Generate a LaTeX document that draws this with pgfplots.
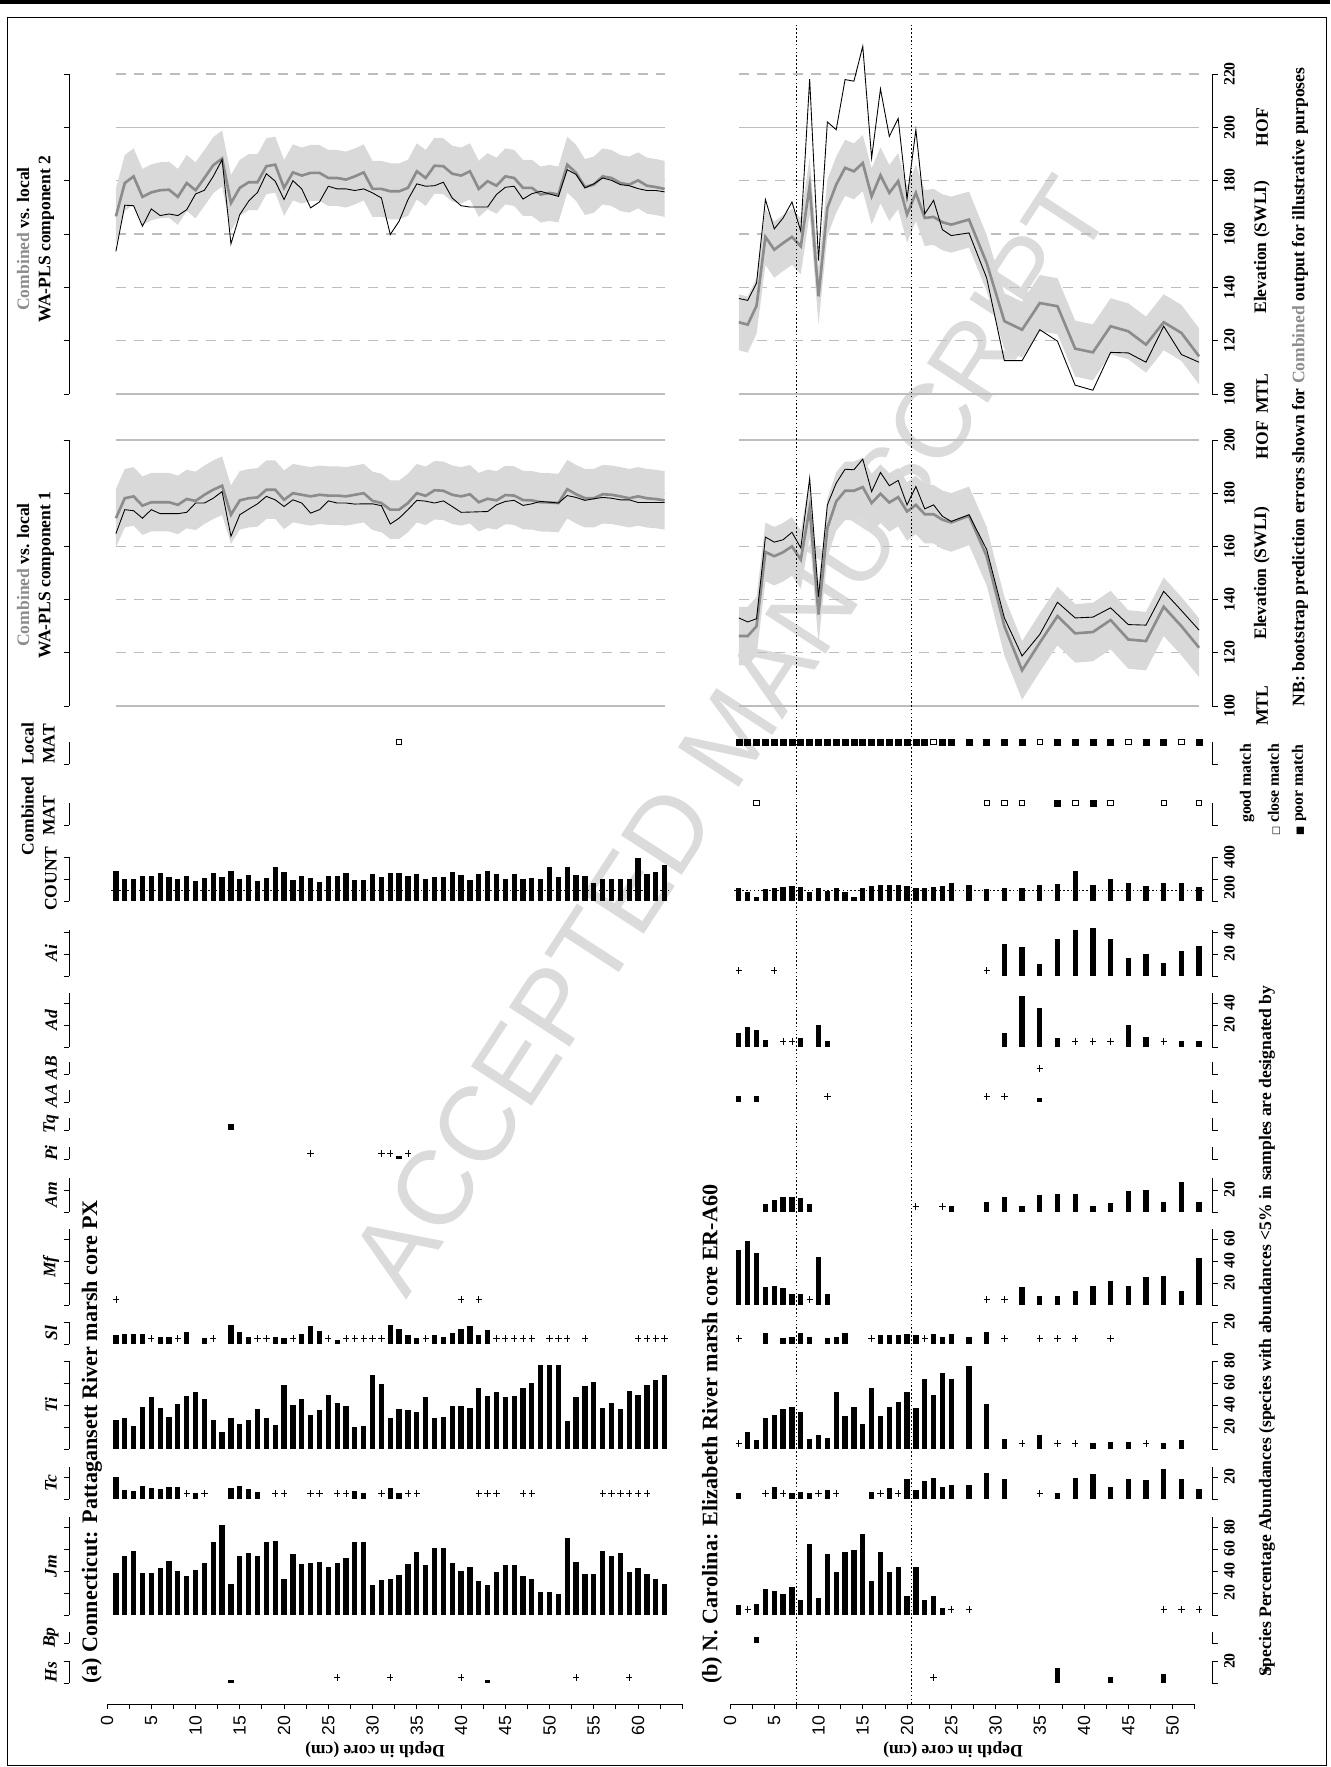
\documentclass[border=0pt]{standalone}
\usepackage{pgfplots}
\pgfplotsset{compat=1.18}
\usepackage{pgfplotstable}
\usepackage{fontspec}
\setmainfont{Liberation Serif}
\newfontfamily\lsans{Liberation Sans}
\newfontfamily\dejavu{DejaVu Sans}

\definecolor{band}{gray}{0.85}
\definecolor{comb}{gray}{0.55}
\definecolor{gridc}{gray}{0.74}
\definecolor{wm}{gray}{0.86}

\newcommand\tl{\fontsize{9}{11}\selectfont\bfseries}

% WA-PLS reconstructions: d = depth (cm), comb = Combined, loc = local
\pgfplotstableread{
d comb loc
1 170.6 164.8
2 178.1 173.8
3 178.8 173.4
4 175.3 170.6
5 176.6 173.8
6 176.6 172.3
7 176.6 172.3
8 175.6 172.3
9 177.8 172.8
10 177.1 176.3
11 179.4 176.3
12 181.3 178.1
13 182.8 180.6
14 171.9 163.8
15 177.3 171.9
16 178.1 174.0
17 178.4 176.0
18 181.3 178.8
19 181.3 177.5
20 177.5 175.0
21 180.0 177.5
22 179.4 176.3
23 178.8 172.5
24 179.4 173.8
25 179.1 177.1
26 179.1 176.3
27 178.8 176.3
28 179.4 175.9
29 180.0 176.0
30 177.1 176.0
31 176.3 175.3
32 173.8 168.4
33 173.8 170.6
34 176.3 173.8
35 180.0 177.3
36 179.0 177.0
37 181.1 176.3
38 180.9 177.1
39 179.4 175.0
40 178.8 172.8
41 179.6 172.9
42 176.6 173.0
43 177.9 173.1
44 177.3 175.6
45 179.3 176.9
46 179.1 177.3
47 177.4 175.4
48 177.3 176.0
49 176.6 176.9
50 176.5 176.6
51 176.3 176.3
52 181.5 179.1
53 179.6 178.4
54 178.1 177.3
55 178.1 177.9
56 179.6 178.4
57 179.4 178.1
58 178.8 177.5
59 178.1 177.5
60 178.8 176.5
61 178.1 176.5
62 177.8 176.5
63 177.3 176.5
}\aone

% bootstrap band of Combined, (a) component 1: upper edge, then lower edge back
\pgfplotstableread{
d y
1 181.6
2 189.1
3 189.8
4 186.3
5 187.6
6 187.6
7 187.6
8 186.6
9 188.8
10 188.1
11 190.4
12 192.3
13 193.8
14 182.9
15 188.3
16 189.1
17 189.4
18 192.3
19 192.3
20 188.5
21 191.0
22 190.4
23 189.8
24 190.4
25 190.1
26 190.1
27 189.8
28 190.4
29 191.0
30 188.1
31 187.3
32 184.8
33 184.8
34 187.3
35 191.0
36 190.0
37 192.1
38 191.9
39 190.4
40 189.8
41 190.6
42 187.6
43 188.9
44 188.3
45 190.3
46 190.1
47 188.4
48 188.3
49 187.6
50 187.5
51 187.3
52 192.5
53 190.6
54 189.1
55 189.1
56 190.6
57 190.4
58 189.8
59 189.1
60 189.8
61 189.1
62 188.8
63 188.3
63 166.3
62 166.8
61 167.1
60 167.8
59 167.1
58 167.8
57 168.4
56 168.6
55 167.1
54 167.1
53 168.6
52 170.5
51 165.3
50 165.5
49 165.6
48 166.3
47 166.4
46 168.1
45 168.3
44 166.3
43 166.9
42 165.6
41 168.6
40 167.8
39 168.4
38 169.9
37 170.1
36 168.0
35 169.0
34 165.3
33 162.8
32 162.8
31 165.3
30 166.1
29 169.0
28 168.4
27 167.8
26 168.1
25 168.1
24 168.4
23 167.8
22 168.4
21 169.0
20 166.5
19 170.3
18 170.3
17 167.4
16 167.1
15 166.3
14 160.9
13 171.8
12 170.3
11 168.4
10 166.1
9 166.8
8 164.6
7 165.6
6 165.6
5 165.6
4 164.3
3 167.8
2 167.1
1 159.6
}\aoneband

\pgfplotstableread{
d comb loc
1 166.6 153.5
2 179.1 170.8
3 181.6 170.6
4 173.9 162.9
5 175.6 169.4
6 176.4 166.9
7 176.6 167.5
8 173.9 166.9
9 179.1 169.1
10 176.4 175.0
11 181.0 176.4
12 185.8 181.6
13 188.3 187.9
14 171.6 156.3
15 177.3 167.3
16 179.4 172.3
17 179.4 175.6
18 185.4 182.6
19 186.0 179.8
20 177.3 172.9
21 183.1 180.0
22 181.9 176.9
23 182.9 169.8
24 182.9 172.0
25 181.0 177.9
26 181.0 176.9
27 180.4 176.9
28 181.6 176.3
29 183.1 176.9
30 176.9 175.4
31 176.9 173.5
32 176.0 159.8
33 176.0 164.8
34 177.3 172.9
35 183.5 178.8
36 181.0 177.9
37 185.6 178.1
38 185.4 179.4
39 182.6 173.5
40 181.9 170.6
41 183.5 170.1
42 176.9 170.1
43 179.8 170.1
44 178.1 174.8
45 181.6 177.5
46 181.0 177.9
47 177.3 173.1
48 177.3 175.1
49 174.8 176.0
50 175.4 175.0
51 174.8 174.1
52 186.0 184.1
53 182.9 182.3
54 177.6 177.3
55 178.5 178.8
56 181.6 181.0
57 181.0 180.1
58 179.1 178.5
59 178.5 178.1
60 180.1 177.0
61 178.1 176.3
62 177.6 176.3
63 176.9 175.8
}\atwo

\pgfplotstableread{
d y
1 177.1
2 189.6
3 192.1
4 184.4
5 186.1
6 186.9
7 187.1
8 184.4
9 189.6
10 186.9
11 191.5
12 196.3
13 198.8
14 182.1
15 187.8
16 189.9
17 189.9
18 195.9
19 196.5
20 187.8
21 193.6
22 192.4
23 193.4
24 193.4
25 191.5
26 191.5
27 190.9
28 192.1
29 193.6
30 187.4
31 187.4
32 186.5
33 186.5
34 187.8
35 194.0
36 191.5
37 196.1
38 195.9
39 193.1
40 192.4
41 194.0
42 187.4
43 190.3
44 188.6
45 192.1
46 191.5
47 187.8
48 187.8
49 185.3
50 185.9
51 185.3
52 196.5
53 193.4
54 188.1
55 189.0
56 192.1
57 191.5
58 189.6
59 189.0
60 190.6
61 188.6
62 188.1
63 187.4
63 166.4
62 167.1
61 167.6
60 169.6
59 168.0
58 168.6
57 170.5
56 171.1
55 168.0
54 167.1
53 172.4
52 175.5
51 164.3
50 164.9
49 164.3
48 166.8
47 166.8
46 170.5
45 171.1
44 167.6
43 169.3
42 166.4
41 173.0
40 171.4
39 172.1
38 174.9
37 175.1
36 170.5
35 173.0
34 166.8
33 165.5
32 165.5
31 166.4
30 166.4
29 172.6
28 171.1
27 169.9
26 170.5
25 170.5
24 172.4
23 172.4
22 171.4
21 172.6
20 166.8
19 175.5
18 174.9
17 168.9
16 168.9
15 166.8
14 161.1
13 177.8
12 175.3
11 170.5
10 165.9
9 168.6
8 163.4
7 166.1
6 165.9
5 165.1
4 163.4
3 171.1
2 168.6
1 156.1
}\atwoband

\pgfplotstableread{
d comb loc
1 126.3 133.1
2 126.3 131.6
3 130.0 132.8
4 157.9 163.5
5 156.3 161.6
6 157.8 162.5
7 160.0 165.3
8 155.0 159.4
9 174.4 185.6
10 134.4 141.0
11 166.9 175.6
12 176.9 183.8
13 180.9 189.0
14 180.9 188.8
15 182.3 192.8
16 176.3 180.6
17 179.8 187.8
18 176.5 182.8
19 178.5 184.8
20 173.1 175.6
21 175.6 182.5
22 172.1 174.1
23 172.1 175.6
24 170.0 171.3
25 169.0 169.4
27 171.5 171.9
29 156.3 158.8
31 130.0 133.1
33 113.4 118.8
35 123.8 126.9
37 133.8 139.0
39 127.3 133.1
41 127.8 133.4
43 132.3 136.9
45 125.0 130.6
47 124.4 130.4
49 137.3 143.1
51 130.0 135.9
53 121.9 128.5
}\bone

\pgfplotstableread{
d y
1 137.3
2 137.3
3 141.0
4 168.9
5 167.3
6 168.8
7 171.0
8 166.0
9 185.4
10 145.4
11 177.9
12 187.9
13 191.9
14 191.9
15 193.3
16 187.3
17 190.8
18 187.5
19 189.5
20 184.1
21 186.6
22 183.1
23 183.1
24 181.0
25 180.0
27 182.5
29 167.3
31 141.0
33 124.4
35 134.8
37 144.8
39 138.3
41 138.8
43 143.3
45 136.0
47 135.4
49 148.3
51 141.0
53 132.9
53 110.9
51 119.0
49 126.3
47 113.4
45 114.0
43 121.3
41 116.8
39 116.3
37 122.8
35 112.8
33 102.4
31 119.0
29 145.3
27 160.5
25 158.0
24 159.0
23 161.1
22 161.1
21 164.6
20 162.1
19 167.5
18 165.5
17 168.8
16 165.3
15 171.3
14 169.9
13 169.9
12 165.9
11 155.9
10 123.4
9 163.4
8 144.0
7 149.0
6 146.8
5 145.3
4 146.9
3 119.0
2 115.3
1 115.3
}\boneband

\pgfplotstableread{
d comb loc
1 126.9 135.8
2 126.0 135.1
3 133.1 141.6
4 158.9 172.9
5 154.1 161.9
6 156.6 166.0
7 158.9 172.0
8 155.4 161.0
9 178.1 218.1
10 136.6 150.0
11 169.8 202.0
12 178.5 199.1
13 184.8 217.9
14 183.5 217.3
15 186.6 230.4
16 174.1 188.5
17 182.0 214.4
18 175.4 196.6
19 179.8 203.3
20 167.3 173.1
21 175.4 199.1
22 166.0 167.5
23 166.4 172.6
24 164.4 161.6
25 163.5 159.4
27 165.4 160.4
29 149.1 143.5
31 127.3 112.5
33 124.1 112.5
35 134.1 124.1
37 132.9 119.8
39 117.0 103.3
41 115.6 101.4
43 125.4 115.6
45 123.5 115.4
47 118.5 111.9
49 126.9 125.4
51 122.9 114.8
53 114.1 111.9
}\btwo

\pgfplotstableread{
d y
1 137.4
2 136.5
3 143.6
4 169.4
5 164.6
6 167.1
7 169.4
8 165.9
9 188.6
10 147.1
11 180.3
12 189.0
13 195.3
14 194.0
15 197.1
16 184.6
17 192.5
18 185.9
19 190.3
20 177.8
21 185.9
22 176.5
23 176.9
24 174.9
25 174.0
27 175.9
29 159.6
31 137.8
33 134.6
35 144.6
37 143.4
39 127.5
41 126.1
43 135.9
45 134.0
47 129.0
49 137.4
51 133.4
53 124.6
53 103.6
51 112.4
49 116.4
47 108.0
45 113.0
43 114.9
41 105.1
39 106.5
37 122.4
35 123.6
33 113.6
31 116.8
29 138.6
27 154.9
25 153.0
24 153.9
23 155.9
22 155.5
21 164.9
20 156.8
19 169.3
18 164.9
17 171.5
16 163.6
15 176.1
14 173.0
13 174.3
12 168.0
11 159.3
10 126.1
9 167.6
8 144.9
7 148.4
6 146.1
5 143.6
4 148.4
3 122.6
2 115.5
1 116.4
}\btwoband

\pgfplotsset{
  /pgf/number format/assume math mode=true,
  base/.style={scale only axis, anchor=south west, clip=false, axis x line=none,
    tick align=outside, major tick length=1.1mm,
    tick style={black, line width=0.45pt},
    axis line style={black, line width=0.45pt}, ymin=0,
    ticklabel style={font=\tl}},
  pa/.style={base, xmin=-4.3, xmax=65, width=122.66mm, axis y line*=left,
    yticklabels={}, at={(13.8mm,#1)}},
  pb/.style={base, xmin=0, xmax=54.5, width=96.47mm, axis y line*=right,
    at={(146mm,#1)}, yticklabel style={rotate=90, anchor=north}},
  bar/.style={ycomb, mark=none, black, line width=1.05mm},
  pl/.style={only marks, mark=+, mark size=1.8pt, black, mark options={line width=0.45pt}},
  opn/.style={only marks, mark=square, mark size=0.55mm, black, mark options={line width=0.45pt}},
  fil/.style={only marks, mark=square*, mark size=0.6mm, black},
  nil/.style={draw=none, mark=none, forget plot},
  bnd/.style={fill=band, draw=none, mark=none},
  depth/.style={scale only axis, anchor=south west, ymin=0, ymax=1,
    axis y line=none, axis x line*=bottom, clip=false,
    tick align=outside, major tick length=1.1mm, minor tick length=1.1mm,
    tick style={black, line width=0.45pt}, axis line style={black, line width=0.45pt},
    xticklabel style={rotate=90, anchor=east, font=\lsans\fontsize{10}{12}\selectfont}},
}
\tikzset{
  gsol/.style={gridc, line width=0.75pt},
  gdash/.style={gridc, line width=0.75pt, dash pattern=on 2mm off 1.6mm},
  dotl/.style={black, line width=0.45pt, dash pattern=on 0.9pt off 1.3pt},
  lab/.style={rotate=90, font=\fontsize{10}{12}\selectfont\bfseries},
  leg/.style={rotate=90, anchor=east, font=\fontsize{9}{11}\selectfont\bfseries},
  spl/.style={rotate=90, font=\fontsize{10}{12}\selectfont\bfseries\itshape},
  ttl/.style={rotate=90, anchor=west, font=\fontsize{12.6}{14}\selectfont\bfseries},
  combl/.style={comb, line width=1.5pt},
  locl/.style={black, line width=0.5pt},
}

\begin{document}
\begin{tikzpicture}
\useasboundingbox (0,0) rectangle (266mm,353.4mm);

% watermark
\node[rotate=57, text=wm, font=\lsans\fontsize{60}{60}\selectfont] at (146mm,206.4mm) {ACCEPTED MANUSCRIPT};

% page rule and frame
\fill (0,352.6mm) rectangle (266mm,353.4mm);
\draw[line width=0.5pt] (1.4mm,0.4mm) rectangle (265.2mm,350.0mm);

% ================= (a) Connecticut =================
% Hs
\begin{axis}[pa=16.8mm, height=4.4mm, ymax=20, ytick={0,20}]
\addplot[bar] coordinates {(14,3) (43,3)};
\addplot[pl] coordinates {(26,5) (32,5) (40,5) (53,5) (59,5)};
\end{axis}
% Bp
\begin{axis}[pa=24.8mm, height=2.2mm, ymax=10, ytick={0}]
\addplot[nil] coordinates {(1,0)};
\end{axis}
% Jm
\begin{axis}[pa=30.4mm, height=19.58mm, ymax=89, ytick={0,20,40,60,80}]
\addplot[bar] coordinates {(1,38)(2,54)(3,58)(4,38)(5,38)(6,43)(7,49)(8,40)(9,35)(10,41)(11,47)(12,66)(13,82)(14,28)(15,54)(16,56)(17,54)(18,66)(19,67)(20,33)(21,55)(22,46)(23,47)(24,48)(25,44)(26,47)(27,52)(28,66)(29,66)(30,27)(31,32)(32,33)(33,36)(34,46)(35,57)(36,45)(37,61)(38,61)(39,47)(40,40)(41,44)(42,31)(43,27)(44,39)(45,45)(46,45)(47,35)(48,33)(49,21)(50,21)(51,19)(52,70)(53,48)(54,37)(55,37)(56,58)(57,54)(58,56)(59,39)(60,43)(61,37)(62,33)(63,28)};
\end{axis}
% Tc
\begin{axis}[pa=53.6mm, height=6.38mm, ymax=29, ytick={0,20}]
\addplot[bar] coordinates {(1,20)(2,8)(3,7)(4,12)(5,10)(6,9)(7,11)(8,11)(10,5)(14,10)(15,12)(16,9)(17,6)(28,7)(29,5)(32,10)(33,5)};
\addplot[pl] coordinates {(9,5)(11,5)(19,5)(20,5)(23,5)(24,5)(26,5)(27,5)(31,5)(34,5)(35,5)(42,5)(43,5)(44,5)(47,5)(48,5)(56,5)(57,5)(58,5)(59,5)(60,5)(61,5)};
\end{axis}
% Ti
\begin{axis}[pa=63.6mm, height=17.6mm, ymax=80, ytick={0,20,40,60,80}]
\addplot[bar] coordinates {(1,26)(2,28)(3,21)(4,38)(5,47)(6,37)(7,29)(8,41)(9,48)(10,52)(11,45)(12,26)(13,15)(14,28)(15,23)(16,26)(17,36)(18,28)(19,22)(20,58)(21,40)(22,45)(23,31)(24,35)(25,49)(26,42)(27,39)(28,20)(29,21)(30,67)(31,59)(32,28)(33,36)(34,35)(35,34)(36,47)(37,28)(38,29)(39,39)(40,39)(41,37)(42,55)(43,48)(44,52)(45,47)(46,48)(47,55)(48,60)(49,76)(50,76)(51,76)(52,25)(53,47)(54,57)(55,61)(56,37)(57,42)(58,36)(59,53)(60,49)(61,58)(62,63)(63,67)};
\end{axis}
% Sl
\begin{axis}[pa=84.6mm, height=4.4mm, ymax=20, ytick={0,20}]
\addplot[bar] coordinates {(1,8)(2,9)(3,9)(4,9)(6,6)(7,6)(9,11)(11,5)(14,17)(15,11)(16,6)(19,6)(20,5)(22,9)(23,16)(24,12)(26,4)(32,17)(33,14)(34,8)(35,5)(37,8)(38,6)(39,10)(40,14)(41,16)(42,8)(43,13)};
\addplot[pl] coordinates {(5,5)(8,5)(12,5)(17,5)(18,5)(21,5)(25,5)(27,5)(28,5)(29,5)(30,5)(31,5)(36,5)(44,5)(45,5)(46,5)(47,5)(48,5)(50,5)(51,5)(52,5)(54,5)(60,5)(61,5)(62,5)(63,5)};
\end{axis}
% Mf
\begin{axis}[pa=92.4mm, height=15.18mm, ymax=69, ytick={0,20,40,60}]
\addplot[pl] coordinates {(1,5)(40,5)(42,5)};
\end{axis}
% Am
\begin{axis}[pa=111.0mm, height=6.82mm, ymax=31, ytick={0,20}]
\addplot[nil] coordinates {(1,0)};
\end{axis}
% Pi
\begin{axis}[pa=121.6mm, height=2.42mm, ymax=11, ytick={0}]
\addplot[bar] coordinates {(33,3)};
\addplot[pl] coordinates {(23,5)(31,5)(32,5)(34,5)};
\end{axis}
% Tq
\begin{axis}[pa=127.4mm, height=2.42mm, ymax=11, ytick={0}]
\addplot[bar] coordinates {(14,5)};
\end{axis}
% AA
\begin{axis}[pa=133.0mm, height=2.42mm, ymax=11, ytick={0}]
\addplot[nil] coordinates {(1,0)};
\end{axis}
% AB
\begin{axis}[pa=138.6mm, height=2.42mm, ymax=11, ytick={0}]
\addplot[nil] coordinates {(1,0)};
\end{axis}
% Ad
\begin{axis}[pa=144.0mm, height=10.78mm, ymax=49, ytick={0,20,40}]
\addplot[nil] coordinates {(1,0)};
\end{axis}
% Ai
\begin{axis}[pa=158.2mm, height=9.24mm, ymax=42, ytick={0,20,40}]
\addplot[nil] coordinates {(1,0)};
\end{axis}
% COUNT
\begin{axis}[pa=173.2mm, height=8.8mm, ymax=400, ytick={0,200,400}]
\addplot[bar] coordinates {(1,271)(2,200)(3,200)(4,225)(5,225)(6,255)(7,215)(8,200)(9,225)(10,178)(11,209)(12,255)(13,215)(14,271)(15,200)(16,240)(17,178)(18,209)(19,308)(20,265)(21,194)(22,225)(23,209)(24,169)(25,231)(26,231)(27,258)(28,194)(29,194)(30,246)(31,215)(32,258)(33,258)(34,225)(35,246)(36,203)(37,215)(38,215)(39,265)(40,234)(41,194)(42,246)(43,274)(44,246)(45,200)(46,249)(47,203)(48,209)(49,203)(50,311)(51,215)(52,311)(53,240)(54,231)(55,163)(56,203)(57,203)(58,197)(59,197)(60,388)(61,243)(62,265)(63,323)};
\draw[dotl] (axis cs:0.5,100) -- (axis cs:63.5,100);
\end{axis}
% Combined MAT
\begin{axis}[pa=188.4mm, height=4.4mm, ymax=1, ytick={0}]
\addplot[nil] coordinates {(1,0)};
\end{axis}
% Local MAT
\begin{axis}[pa=200.6mm, height=4.4mm, ymax=1, ytick={0}]
\addplot[opn] coordinates {(33,1)};
\end{axis}
% WA-PLS component 1
\begin{axis}[pa=212.2mm, height=53.2mm, ymin=100, ymax=200, ytick={100,120,...,200}]
\addplot[nil] coordinates {(1,150)};
\draw[gsol] (axis cs:1,200) -- (axis cs:63,200);
\draw[gdash] (axis cs:1,180) -- (axis cs:63,180);
\draw[gdash] (axis cs:1,160) -- (axis cs:63,160);
\draw[gdash] (axis cs:1,140) -- (axis cs:63,140);
\draw[gdash] (axis cs:1,120) -- (axis cs:63,120);
\draw[gsol] (axis cs:1,100) -- (axis cs:63,100);
\addplot[bnd] table[x=d, y=y] {\aoneband};
\addplot[combl] table[x=d, y=comb] {\aone};
\addplot[locl] table[x=d, y=loc] {\aone};
\end{axis}
% WA-PLS component 2
\begin{axis}[pa=274.6mm, height=64mm, ymin=100, ymax=220, ytick={100,120,...,220}]
\addplot[nil] coordinates {(1,150)};
\draw[gdash] (axis cs:1,220) -- (axis cs:63,220);
\draw[gsol] (axis cs:1,200) -- (axis cs:63,200);
\draw[gdash] (axis cs:1,180) -- (axis cs:63,180);
\draw[gdash] (axis cs:1,160) -- (axis cs:63,160);
\draw[gdash] (axis cs:1,140) -- (axis cs:63,140);
\draw[gdash] (axis cs:1,120) -- (axis cs:63,120);
\draw[gsol] (axis cs:1,100) -- (axis cs:63,100);
\addplot[bnd] table[x=d, y=y] {\atwoband};
\addplot[combl] table[x=d, y=comb] {\atwo};
\addplot[locl] table[x=d, y=loc] {\atwo};
\end{axis}
% depth axis (a)
\begin{axis}[depth, at={(21.4mm,12.6mm)}, width=115.05mm, height=2mm,
  xmin=0, xmax=65, xtick={0,5,...,60}, minor xtick={2.5,7.5,...,62.5,65}]
\addplot[nil] coordinates {(1,0)};
\end{axis}

% ================= (b) N. Carolina =================
% Hs
\begin{axis}[pb=16.8mm, height=4.4mm, ymax=20, ytick={0,20}, yticklabels={,20}]
\addplot[bar] coordinates {(37,14)(43,5)(49,8)};
\addplot[pl] coordinates {(23,5)};
\end{axis}
% Bp
\begin{axis}[pb=24.8mm, height=2.2mm, ymax=10, ytick={0}, yticklabels={}]
\addplot[bar] coordinates {(3,5)};
\end{axis}
% Jm
\begin{axis}[pb=30.4mm, height=19.58mm, ymax=89, ytick={0,20,40,60,80}, yticklabels={,20,40,60,80}]
\addplot[bar] coordinates {(1,9)(3,10)(4,24)(5,22)(6,19)(7,25)(8,14)(9,65)(10,15)(11,55)(12,39)(13,57)(14,59)(15,74)(16,31)(17,57)(18,39)(19,44)(20,17)(21,44)(22,14)(23,17)(24,6)};
\addplot[pl] coordinates {(2,5)(25,5)(27,5)(49,5)(51,5)(53,5)};
\end{axis}
% Tc
\begin{axis}[pb=53.6mm, height=6.38mm, ymax=29, ytick={0,20}, yticklabels={,20}]
\addplot[bar] coordinates {(1,5)(5,11)(7,5)(8,6)(9,5)(11,8)(16,6)(18,10)(20,18)(21,8)(22,16)(23,19)(24,11)(25,13)(27,13)(29,24)(31,18)(37,5)(39,19)(41,23)(43,11)(45,18)(47,17)(49,27)(51,18)(53,9)};
\addplot[pl] coordinates {(4,5)(6,5)(10,5)(12,5)(17,5)(19,5)(35,5)};
\end{axis}
% Ti
\begin{axis}[pb=63.6mm, height=17.6mm, ymax=80, ytick={0,20,40,60,80}, yticklabels={,20,40,60,80}]
\addplot[bar] coordinates {(2,15)(3,8)(4,28)(5,31)(6,36)(7,38)(8,34)(9,9)(10,13)(11,10)(12,52)(13,30)(14,38)(15,23)(16,55)(17,30)(18,38)(19,43)(20,52)(21,37)(22,64)(23,49)(24,69)(25,64)(27,75)(29,41)(31,9)(35,13)(41,5)(43,6)(45,6)(49,5)(51,8)};
\addplot[pl] coordinates {(1,5)(33,5)(37,5)(39,5)(47,5)};
\end{axis}
% Sl
\begin{axis}[pb=84.6mm, height=4.4mm, ymax=20, ytick={0,20}, yticklabels={,20}]
\addplot[bar] coordinates {(4,10)(6,5)(7,6)(8,10)(9,6)(11,5)(12,6)(13,10)(17,8)(18,8)(19,8)(20,9)(21,8)(23,9)(24,6)(25,9)(27,6)(29,11)};
\addplot[pl] coordinates {(1,5)(16,5)(22,5)(31,5)(35,5)(37,5)(39,5)(43,5)};
\end{axis}
% Mf
\begin{axis}[pb=92.4mm, height=15.18mm, ymax=69, ytick={0,20,40,60}, yticklabels={,20,40,60}]
\addplot[bar] coordinates {(1,50)(2,58)(3,47)(4,16)(5,17)(6,15)(7,10)(8,10)(10,44)(11,10)(33,16)(35,8)(37,8)(39,13)(41,17)(43,22)(45,17)(47,25)(49,26)(51,13)(53,43)};
\addplot[pl] coordinates {(9,5)(29,5)(31,5)};
\end{axis}
% Am
\begin{axis}[pb=111.0mm, height=6.82mm, ymax=31, ytick={0,20}, yticklabels={,20}]
\addplot[bar] coordinates {(4,7)(5,11)(6,14)(7,14)(8,13)(9,7)(25,5)(29,9)(31,14)(33,5)(35,15)(37,16)(39,16)(41,5)(43,8)(45,19)(47,20)(49,9)(51,27)(53,9)};
\addplot[pl] coordinates {(21,5)(24,5)};
\end{axis}
% Pi
\begin{axis}[pb=121.6mm, height=2.42mm, ymax=11, ytick={0}, yticklabels={}]
\addplot[nil] coordinates {(1,0)};
\end{axis}
% Tq
\begin{axis}[pb=127.4mm, height=2.42mm, ymax=11, ytick={0}, yticklabels={}]
\addplot[nil] coordinates {(1,0)};
\end{axis}
% AA
\begin{axis}[pb=133.0mm, height=2.42mm, ymax=11, ytick={0}, yticklabels={}]
\addplot[bar] coordinates {(1,5)(3,5)(35,4)};
\addplot[pl] coordinates {(11,5)(29,5)(31,5)};
\end{axis}
% AB
\begin{axis}[pb=138.6mm, height=2.42mm, ymax=11, ytick={0}, yticklabels={}]
\addplot[pl] coordinates {(35,5)};
\end{axis}
% Ad
\begin{axis}[pb=144.0mm, height=10.78mm, ymax=49, ytick={0,20,40}, yticklabels={,20,40}]
\addplot[bar] coordinates {(1,13)(2,18)(3,15)(4,6)(8,8)(10,20)(11,5)(31,13)(33,46)(35,35)(37,8)(45,20)(47,9)(51,5)(53,5)};
\addplot[pl] coordinates {(6,5)(7,5)(39,5)(41,5)(43,5)(49,5)};
\end{axis}
% Ai
\begin{axis}[pb=158.2mm, height=9.24mm, ymax=42, ytick={0,20,40}, yticklabels={,20,40}]
\addplot[bar] coordinates {(31,29)(33,26)(35,11)(37,34)(39,42)(41,44)(43,34)(45,16)(47,20)(49,12)(51,23)(53,27)};
\addplot[pl] coordinates {(1,5)(5,5)(29,5)};
\end{axis}
% COUNT
\begin{axis}[pb=173.2mm, height=8.8mm, ymax=400, ytick={0,200,400}, yticklabels={,200\hspace*{3.4mm},400}]
\addplot[bar] coordinates {(1,114)(2,83)(3,37)(4,108)(5,120)(6,129)(7,135)(8,129)(9,83)(10,114)(11,89)(12,120)(13,83)(14,37)(15,114)(16,138)(17,145)(18,145)(19,145)(20,135)(21,120)(22,120)(23,129)(24,138)(25,160)(27,145)(29,105)(31,114)(33,114)(35,145)(37,151)(39,277)(41,145)(43,197)(45,160)(47,135)(49,160)(51,160)(53,123)};
\draw[dotl] (axis cs:0.5,100) -- (axis cs:53.5,100);
\end{axis}
% Combined MAT
\begin{axis}[pb=188.4mm, height=4.4mm, ymax=1, ytick={0}, yticklabels={}]
\addplot[opn] coordinates {(3,1)(29,1)(31,1)(33,1)(39,1)(43,1)(49,1)(53,1)};
\addplot[fil] coordinates {(37,1)(41,1)};
\end{axis}
% Local MAT
\begin{axis}[pb=200.6mm, height=4.4mm, ymax=1, ytick={0}, yticklabels={}]
\addplot[fil] coordinates {(1,1)(2,1)(3,1)(4,1)(5,1)(6,1)(7,1)(8,1)(9,1)(10,1)(11,1)(12,1)(13,1)(14,1)(15,1)(16,1)(17,1)(18,1)(19,1)(20,1)(21,1)(22,1)(24,1)(25,1)(27,1)(29,1)(31,1)(33,1)(37,1)(39,1)(41,1)(43,1)(47,1)(49,1)(53,1)};
\addplot[opn] coordinates {(23,1)(35,1)(45,1)(51,1)};
\end{axis}
% WA-PLS component 1
\begin{axis}[pb=212.2mm, height=53.2mm, ymin=100, ymax=200, ytick={100,120,...,200}]
\addplot[nil] coordinates {(1,150)};
\draw[gsol] (axis cs:1,200) -- (axis cs:53,200);
\draw[gdash] (axis cs:1,180) -- (axis cs:53,180);
\draw[gdash] (axis cs:1,160) -- (axis cs:53,160);
\draw[gdash] (axis cs:1,140) -- (axis cs:53,140);
\draw[gdash] (axis cs:1,120) -- (axis cs:53,120);
\draw[gsol] (axis cs:1,100) -- (axis cs:53,100);
\addplot[bnd] table[x=d, y=y] {\boneband};
\addplot[combl] table[x=d, y=comb] {\bone};
\addplot[locl] table[x=d, y=loc] {\bone};
\end{axis}
% WA-PLS component 2
\begin{axis}[pb=274.6mm, height=64mm, ymin=100, ymax=220, ytick={100,120,...,220}]
\addplot[nil] coordinates {(1,150)};
\draw[gdash] (axis cs:1,220) -- (axis cs:53,220);
\draw[gsol] (axis cs:1,200) -- (axis cs:53,200);
\draw[gdash] (axis cs:1,180) -- (axis cs:53,180);
\draw[gdash] (axis cs:1,160) -- (axis cs:53,160);
\draw[gdash] (axis cs:1,140) -- (axis cs:53,140);
\draw[gdash] (axis cs:1,120) -- (axis cs:53,120);
\draw[gsol] (axis cs:1,100) -- (axis cs:53,100);
\addplot[bnd] table[x=d, y=y] {\btwoband};
\addplot[combl] table[x=d, y=comb] {\btwo};
\addplot[locl] table[x=d, y=loc] {\btwo};
\end{axis}
% depth axis (b), with the two zone boundaries
\begin{axis}[depth, at={(146mm,12.6mm)}, width=92.93mm, height=336.2mm,
  xmin=0, xmax=52.5, xtick={0,5,...,50}, minor xtick={2.5,7.5,...,52.5}]
\addplot[nil] coordinates {(1,0)};
\draw[dotl] (axis cs:7.5,0) -- (axis cs:7.5,1);
\draw[dotl] (axis cs:20.5,0) -- (axis cs:20.5,1);
\end{axis}

% ================= labels =================
\node[ttl] at (18.4mm,15.4mm) {(a) Connecticut: Pattagansett River marsh core PX};
\node[ttl] at (142.4mm,15.4mm) {(b) N. Carolina: Elizabeth River marsh core ER-A60};

\node[spl] at (10.2mm,19.0mm) {Hs};
\node[spl] at (10.2mm,25.9mm) {Bp};
\node[spl] at (10.2mm,40.2mm) {Jm};
\node[spl] at (10.2mm,56.8mm) {Tc};
\node[spl] at (10.2mm,72.4mm) {Ti};
\node[spl] at (10.2mm,86.8mm) {Sl};
\node[spl] at (10.2mm,100.0mm) {Mf};
\node[spl] at (10.2mm,114.4mm) {Am};
\node[spl] at (10.2mm,122.8mm) {Pi};
\node[spl] at (10.2mm,128.6mm) {Tq};
\node[spl] at (10.2mm,134.2mm) {AA};
\node[spl] at (10.2mm,139.8mm) {AB};
\node[spl] at (10.2mm,149.4mm) {Ad};
\node[spl] at (10.2mm,162.8mm) {Ai};
\node[lab] at (10.2mm,177.6mm) {COUNT};
\node[lab, align=center] at (7.6mm,190.2mm) {Combined\\MAT};
\node[lab, align=center] at (7.6mm,204.6mm) {Local\\MAT};
\node[lab, align=center] at (7.1mm,238.4mm) {\textcolor{comb}{Combined} vs. local\\WA-PLS component 1};
\node[lab, align=center] at (7.1mm,305.6mm) {\textcolor{comb}{Combined} vs. local\\WA-PLS component 2};

\node[lab] at (252.4mm,212.2mm) {MTL};
\node[lab] at (252.4mm,265.4mm) {HOF};
\node[lab] at (252.4mm,238.8mm) {Elevation (SWLI)};
\node[lab] at (252.4mm,274.6mm) {MTL};
\node[lab] at (252.4mm,328.0mm) {HOF};
\node[lab] at (252.4mm,304.0mm) {Elevation (SWLI)};
\node[lab] at (260.0mm,276.0mm) {NB: bootstrap prediction errors shown for \textcolor{comb}{Combined} output for illustrative purposes};

\node[lab, anchor=west] at (253.4mm,16.8mm) {Species Percentage Abundances (species with abundances <5\% in samples are designated by};
\node[lab] at (253.4mm,19.4mm) {+};
\node[leg] at (249.4mm,205.8mm) {good match};
\node[leg] at (254.8mm,205.8mm) {{\dejavu\fontsize{5.5}{6}\selectfont□} close match};
\node[leg] at (259.8mm,205.8mm) {{\dejavu\fontsize{5.5}{6}\selectfont■} poor match};

\node[rotate=180, font=\fontsize{10}{12}\selectfont\bfseries] at (75mm,3.4mm) {Depth in core (cm)};
\node[rotate=180, font=\fontsize{10}{12}\selectfont\bfseries] at (190.6mm,3.4mm) {Depth in core (cm)};
\end{tikzpicture}
\end{document}
